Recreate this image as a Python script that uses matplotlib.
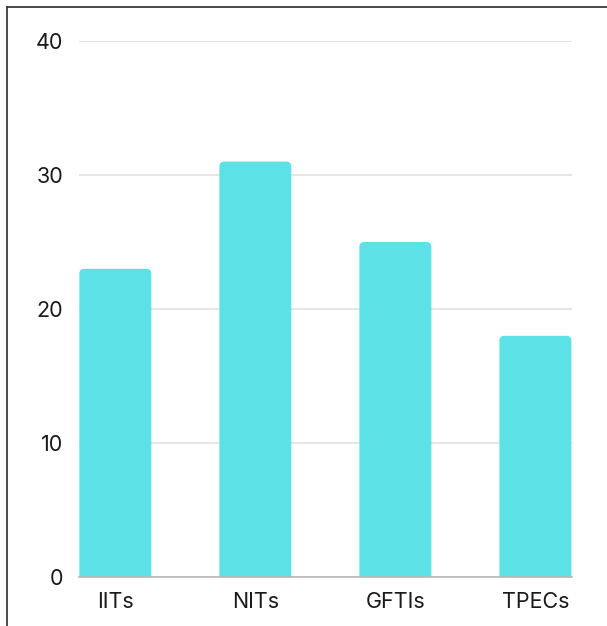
import matplotlib
matplotlib.use("Agg")
import matplotlib.pyplot as plt
from matplotlib.patches import PathPatch
from matplotlib.path import Path
from matplotlib.lines import Line2D

categories = ["IITs", "NITs", "GFTIs", "TPECs"]
values = [23, 31, 25, 18]
yticks = [0, 10, 20, 30, 40]

bar_color = "#5CE1E6"
plt.rcParams["font.family"] = ["Inter", "DejaVu Sans"]

fig = plt.figure(figsize=(6.07, 6.26), dpi=100)
ax = fig.add_axes([0.130, 0.0783, 0.812, 0.8562])

width = 0.514
x = list(range(len(categories)))
ax.set_xlim(-width / 2 - 0.003, len(categories) - 1 + width / 2 + 0.003)
ax.set_ylim(yticks[0], yticks[-1])


def top_rounded_bar(x0, w, h, rx, ry):
    """Path for a bar whose two top corners are rounded."""
    verts = [
        (x0, 0), (x0, h - ry),
        (x0, h), (x0 + rx, h),
        (x0 + w - rx, h),
        (x0 + w, h), (x0 + w, h - ry),
        (x0 + w, 0), (x0, 0),
    ]
    codes = [
        Path.MOVETO, Path.LINETO,
        Path.CURVE3, Path.CURVE3,
        Path.LINETO,
        Path.CURVE3, Path.CURVE3,
        Path.LINETO, Path.CLOSEPOLY,
    ]
    return Path(verts, codes)


# corner radius of about 5 px expressed in data units on each axis
rx = 0.036
ry = 0.37
for xi, v in zip(x, values):
    ax.add_patch(PathPatch(top_rounded_bar(xi - width / 2, width, v, rx, ry),
                           facecolor=bar_color, edgecolor="none", zorder=3))

ax.set_yticks(yticks)
ax.set_xticks(x)
ax.set_xticklabels(categories)
ax.yaxis.grid(True, color="#e0e0e0", linewidth=1.2, zorder=0)
ax.set_axisbelow(True)

for s in ["top", "right", "left"]:
    ax.spines[s].set_visible(False)
ax.spines["bottom"].set_color("#b8b8b8")
ax.spines["bottom"].set_linewidth(1.2)
ax.spines["bottom"].set_zorder(4)

ax.tick_params(axis="both", length=0, labelsize=15.5, colors="#1a1a1a")
ax.tick_params(axis="y", pad=11.5)
ax.tick_params(axis="x", pad=10.5)

# Frame lines along the left and top edges
fig.add_artist(Line2D([7 / 607, 7 / 607], [0, 1 - 7 / 626], transform=fig.transFigure,
                      color="#3a3a3a", linewidth=1.3))
fig.add_artist(Line2D([7 / 607, 1], [1 - 7 / 626, 1 - 7 / 626], transform=fig.transFigure,
                      color="#3a3a3a", linewidth=1.3))

fig.savefig("out.png", dpi=100, facecolor="white")
